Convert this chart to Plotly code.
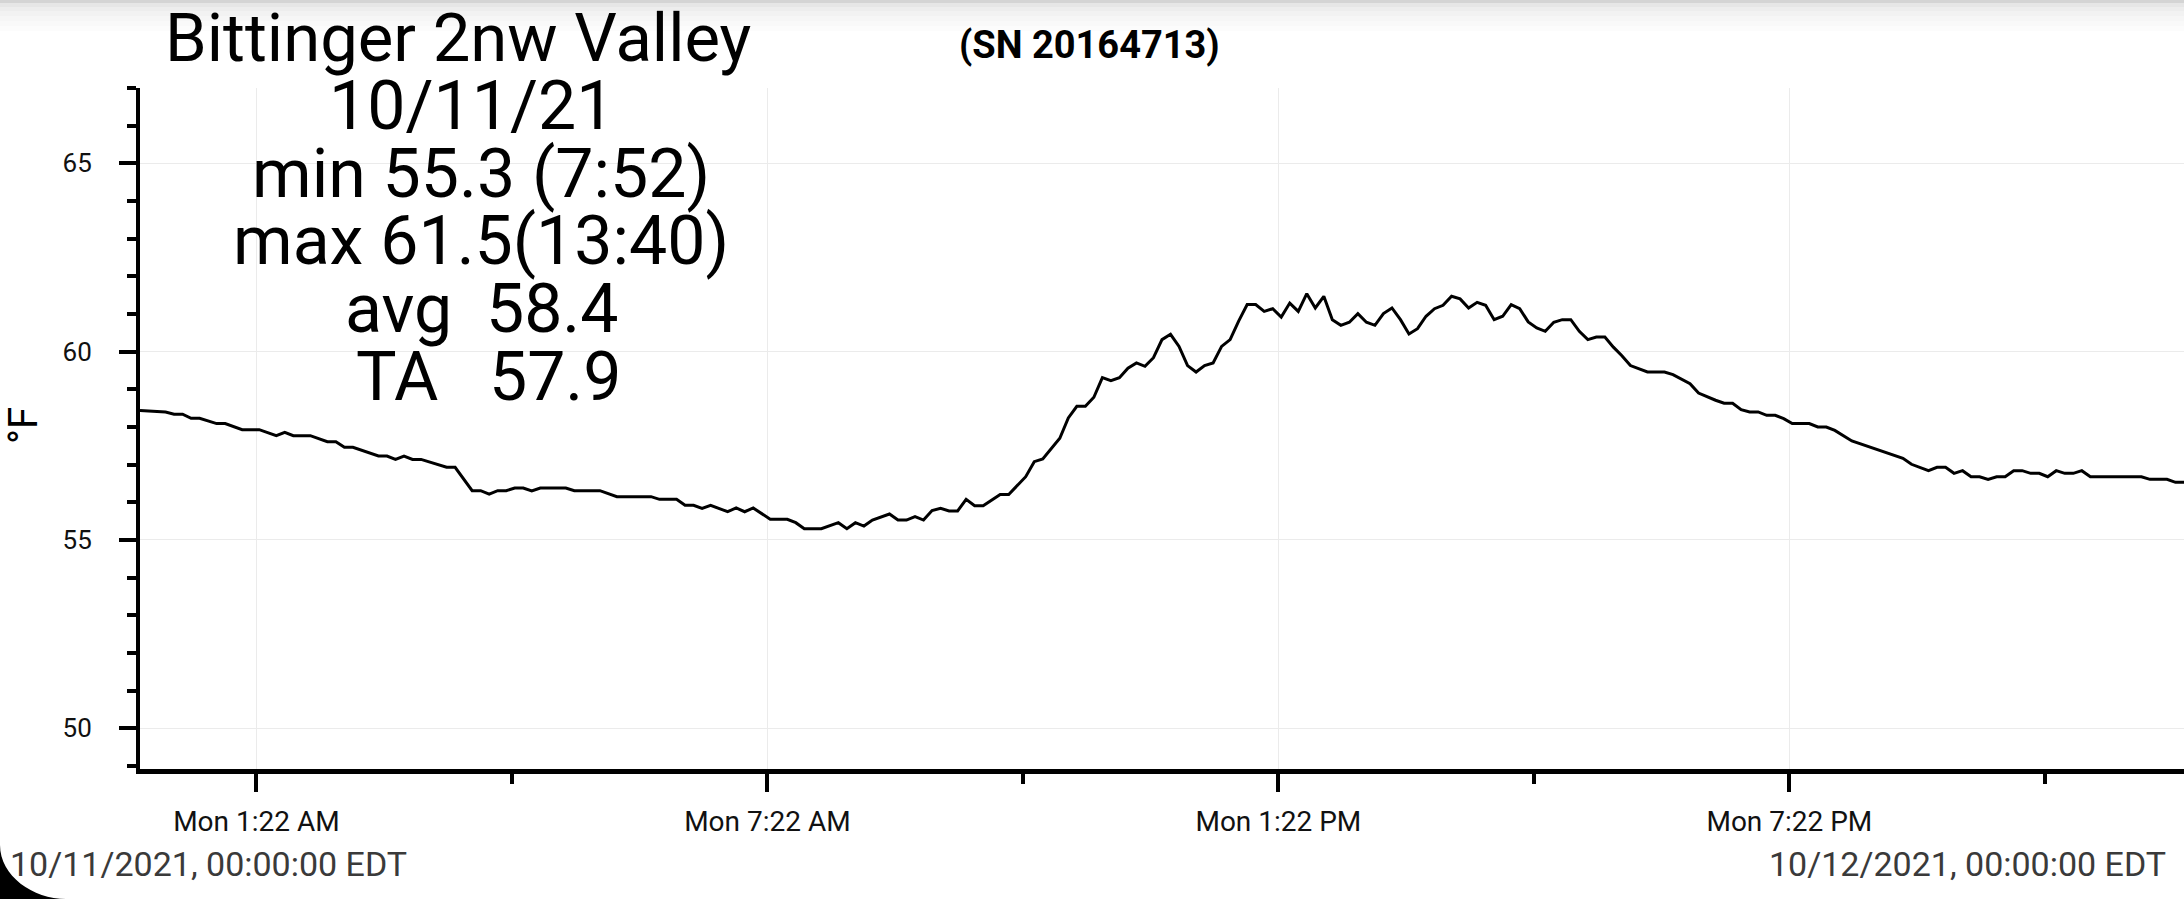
import pandas as pd
import plotly.graph_objs as go

# readings for 10/11/21, minutes after midnight and deg F
minutes = [0, 18, 24, 30, 36, 42, 54, 60, 72, 84, 96, 102, 108, 120, 132, 138, 144, 150,
           168, 174, 180, 186, 192, 198, 216, 222, 234, 240, 246, 252, 258, 264, 270, 276,
           282, 300, 306, 324, 336, 360, 366, 378, 384, 390, 396, 402, 414, 420, 426, 432,
           444, 456, 462, 468, 480, 492, 498, 504, 510, 516, 528, 534, 540, 546, 552, 558,
           564, 570, 576, 582, 588, 594, 606, 612, 624, 630, 636, 642, 648, 654, 660, 666,
           672, 678, 684, 690, 696, 702, 708, 714, 720, 726, 732, 738, 744, 750, 756, 762,
           768, 774, 780, 786, 792, 798, 804, 810, 816, 822, 828, 834, 840, 846, 852, 858,
           864, 870, 876, 882, 888, 894, 900, 906, 912, 918, 924, 930, 936, 942, 948, 954,
           960, 966, 972, 978, 984, 990, 996, 1002, 1008, 1014, 1020, 1026, 1032, 1038, 1044,
           1050, 1062, 1074, 1080, 1092, 1098, 1110, 1116, 1122, 1128, 1134, 1140, 1146, 1152,
           1158, 1164, 1176, 1182, 1188, 1194, 1206, 1218, 1230, 1242, 1248, 1260, 1266, 1272,
           1278, 1284, 1290, 1296, 1302, 1308, 1314, 1320, 1326, 1332, 1338, 1344, 1350, 1356,
           1362, 1368, 1374, 1410, 1416, 1428, 1434, 1440]
temps = [58.44, 58.40, 58.34, 58.34, 58.23, 58.23, 58.09, 58.09, 57.93, 57.93, 57.77, 57.86,
         57.77, 57.77, 57.61, 57.61, 57.46, 57.46, 57.23, 57.23, 57.14, 57.23, 57.14, 57.14,
         56.93, 56.93, 56.31, 56.31, 56.22, 56.31, 56.31, 56.38, 56.38, 56.30, 56.38, 56.38,
         56.31, 56.31, 56.15, 56.15, 56.08, 56.08, 55.92, 55.92, 55.84, 55.92, 55.75, 55.85,
         55.75, 55.85, 55.55, 55.55, 55.46, 55.30, 55.30, 55.46, 55.30, 55.46, 55.37, 55.53,
         55.69, 55.53, 55.53, 55.62, 55.53, 55.78, 55.84, 55.77, 55.77, 56.08, 55.91, 55.91,
         56.21, 56.21, 56.68, 57.08, 57.15, 57.44, 57.70, 58.24, 58.55, 58.55, 58.79, 59.31,
         59.23, 59.31, 59.56, 59.70, 59.61, 59.84, 60.32, 60.46, 60.14, 59.63, 59.46, 59.63,
         59.70, 60.14, 60.32, 60.81, 61.25, 61.25, 61.07, 61.14, 60.92, 61.29, 61.07, 61.54,
         61.16, 61.47, 60.85, 60.70, 60.78, 61.01, 60.78, 60.70, 61.01, 61.16, 60.85, 60.47,
         60.61, 60.94, 61.14, 61.23, 61.47, 61.40, 61.16, 61.31, 61.23, 60.85, 60.94, 61.25,
         61.14, 60.79, 60.63, 60.54, 60.78, 60.85, 60.85, 60.54, 60.32, 60.39, 60.39, 60.12,
         59.89, 59.63, 59.46, 59.46, 59.39, 59.15, 58.90, 58.71, 58.63, 58.63, 58.46, 58.40,
         58.40, 58.31, 58.31, 58.22, 58.09, 58.09, 58.00, 58.00, 57.91, 57.63, 57.48, 57.33,
         57.17, 57.01, 56.84, 56.93, 56.93, 56.77, 56.84, 56.68, 56.68, 56.61, 56.68, 56.68,
         56.84, 56.84, 56.77, 56.77, 56.68, 56.84, 56.77, 56.77, 56.84, 56.68, 56.68, 56.61,
         56.61, 56.53, 56.53]

tick_times = ['2021-10-11 01:22', '2021-10-11 07:22', '2021-10-11 13:22', '2021-10-11 19:22']
tick_labels = ['Mon 1:22 AM', 'Mon 7:22 AM', 'Mon 1:22 PM', 'Mon 7:22 PM']
minor_times = ['2021-10-11 04:22', '2021-10-11 10:22', '2021-10-11 16:22', '2021-10-11 22:22']

title = 'Bittinger 2nw Valley'
serial = '(SN 20164713)'
stats = ['10/11/21', 'min 55.3 (7:52)', 'max 61.5(13:40)',
         'avg\u00a0\u00a058.4', 'TA\u00a0\u00a0\u00a057.9']
start_label = '10/11/2021, 00:00:00 EDT'
end_label = '10/12/2021, 00:00:00 EDT'

W, H = 2184, 899
L, R, T, B = 140, 2184, 88, 769


def px(x):
    return (x - L) / (R - L)


def py(y):
    return (B - y) / (B - T)


base = pd.Timestamp('2021-10-11')
x = base + pd.to_timedelta(minutes, unit='m')

fig = go.Figure()
fig.add_trace(go.Scatter(x=x, y=temps, mode='lines',
                         line=dict(color='black', width=3), showlegend=False))

annotations = [
    dict(text=title, x=px(458), y=py(38), font=dict(size=67, color='black')),
    dict(text=serial, x=px(1089), y=py(45), font=dict(size=38, color='black', weight='bold')),
    dict(text='°F', x=px(23), y=py(426), textangle=-90, font=dict(size=40, color='black')),
    dict(text=start_label, x=px(8), y=py(864), xanchor='left', font=dict(size=34, color='#3a3a3a')),
    dict(text=end_label, x=px(2168), y=py(864), xanchor='right', font=dict(size=34, color='#3a3a3a')),
]
stat_x = [471, 481, 481, 482, 489]
stat_y = [106, 174, 241, 309, 377]
for txt, xx, yy in zip(stats, stat_x, stat_y):
    annotations.append(dict(text=txt, x=px(xx), y=py(yy), font=dict(size=68, color='black')))
for a in annotations:
    a.update(xref='paper', yref='paper', showarrow=False)
    a.setdefault('xanchor', 'center')
    a['yanchor'] = 'middle'

# status bar shadow at the top and the rounded screen corner
shapes = []
shade = ['#d4d4d4', '#e6e6e6', '#ededed', '#f2f2f2', '#f6f6f6', '#f9f9f9', '#fcfcfc']
edges = [0, 3, 7, 11, 16, 21, 26, 31]
for c, y0, y1 in zip(shade, edges[:-1], edges[1:]):
    shapes.append(dict(type='rect', xref='paper', yref='paper', x0=px(0), x1=px(W),
                       y0=py(y1), y1=py(y0), fillcolor=c, line=dict(width=0), layer='below'))
corner = 'M {},{} C {},{} {},{} {},{} L {},{} Z'.format(
    px(0), py(845), px(0), py(876), px(33), py(899), px(66), py(899), px(0), py(899))
shapes.append(dict(type='path', xref='paper', yref='paper', path=corner,
                   fillcolor='black', line=dict(width=0)))

fig.update_layout(
    width=W, height=H,
    margin=dict(l=L, r=W - R, t=T, b=H - B),
    paper_bgcolor='white', plot_bgcolor='white',
    font=dict(family='Roboto', color='black'),
    annotations=annotations, shapes=shapes,
    xaxis=dict(range=['2021-10-11 00:00', '2021-10-12 00:00'],
               tickmode='array', tickvals=tick_times, ticktext=tick_labels,
               ticks='outside', ticklen=18, tickwidth=4, tickcolor='black',
               ticklabelstandoff=5, tickfont=dict(size=28, color='#111111'),
               minor=dict(tickmode='array', tickvals=minor_times, ticks='outside',
                          ticklen=10, tickwidth=4, tickcolor='black', showgrid=False),
               showline=True, linecolor='black', linewidth=5,
               showgrid=True, gridcolor='#ebebeb', gridwidth=1, zeroline=False),
    yaxis=dict(range=[48.92, 67.0], tickmode='linear', tick0=50, dtick=5,
               ticks='outside', ticklen=17, tickwidth=4, tickcolor='black',
               ticklabelstandoff=22, tickfont=dict(size=26, color='#111111'),
               minor=dict(dtick=1, ticks='outside', ticklen=9, tickwidth=4,
                          tickcolor='black', showgrid=False),
               showline=True, linecolor='black', linewidth=4,
               showgrid=True, gridcolor='#ebebeb', gridwidth=1, zeroline=False),
)

# the page's default body margin would push the figure off the window
fig.write_html("out.html", config={'displayModeBar': False},
               post_script="document.body.style.margin='0';")
